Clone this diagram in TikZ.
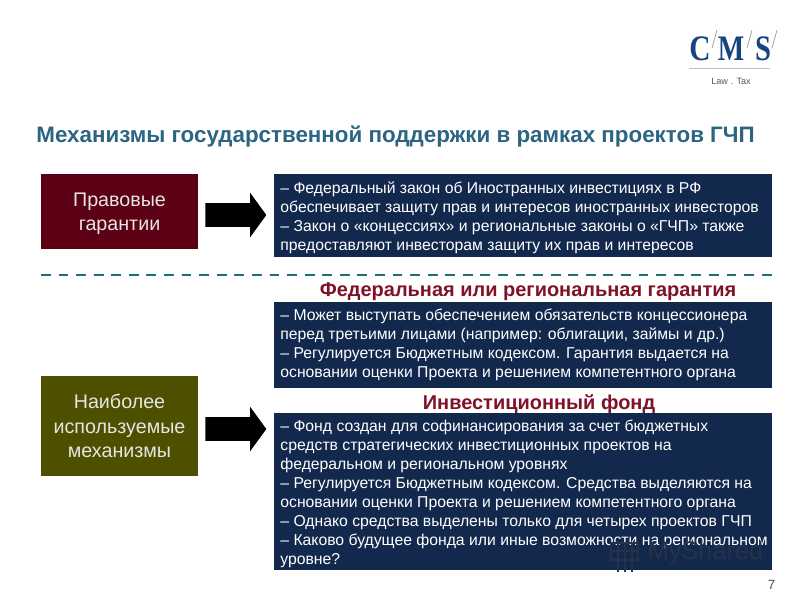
\documentclass[tikz,border=0pt]{standalone}
\usepackage{fontspec}
\setmainfont{Liberation Sans}
\newfontfamily\logofont{Liberation Serif}
\usetikzlibrary{shapes.arrows}
\definecolor{navybox}{HTML}{12284C}
\definecolor{wine}{HTML}{5C0014}
\definecolor{olive}{HTML}{4F4F00}
\definecolor{titleblue}{HTML}{2B6582}
\definecolor{redhead}{HTML}{7F1228}
\definecolor{dashteal}{HTML}{1F7078}
\definecolor{cmsblue}{HTML}{17437F}
\definecolor{markgrey}{HTML}{263248}
\tikzset{
  leftbox/.style={text=white!90!black,font=\fontsize{14}{17.5}\selectfont,align=center,inner sep=0pt,minimum width=112pt},
  textbox/.style={fill=navybox,text=white,font=\fontsize{11.2}{13.5}\selectfont,align=left,anchor=north west,inner sep=0pt,minimum width=354pt},
  bigarrow/.style={single arrow,fill=black,minimum width=31pt,minimum height=43.4pt,single arrow head extend=7.5pt,single arrow tip angle=108,inner ysep=8.2pt,inner xsep=0pt},
  headtext/.style={text=redhead,font=\fontsize{14.2}{16}\bfseries\selectfont,inner sep=0pt},
  logoletter/.style={text=cmsblue,inner sep=0pt,font=\logofont\fontsize{25.5}{25.5}\bfseries\selectfont},
  logoslash/.style={gray!80,line width=.5pt},
}
\begin{document}
\begin{tikzpicture}[x=.025cm,y=-.025cm]
  \useasboundingbox (0,0) rectangle (800,600);
  % logo
  \draw (700,49) node[logoletter] (cmsc) {\scalebox{.82}[1]{C}};
  \draw (731,49) node[logoletter] (cmsm) {\scalebox{.78}[1]{M}};
  \draw (763,49) node[logoletter] (cmss) {\scalebox{.8}[1]{S}};
  \foreach \sx/\sn in {712/a,747/b,772/c}{
    \coordinate (slash\sn low) at (\sx,48);
    \coordinate (slash\sn top) at (\sx+5,30);
    \draw[logoslash] (slash\sn low) -- (slash\sn top);
  }
  \coordinate (rulea) at (689,68);
  \coordinate (ruleb) at (770,68);
  \draw[gray!50,line width=.7pt] (rulea) -- (ruleb);
  \draw (731,81) node[text=black!65,inner sep=0pt,font=\fontsize{6.5}{8}\selectfont] (lawtax) {Law . Tax};
  % title
  \draw (395.5,136) node[text=titleblue,inner sep=0pt,font=\fontsize{15.9}{18}\bfseries\selectfont] (title) {Механизмы государственной поддержки в рамках проектов ГЧП};
  % left column
  \draw (119.5,211.5) node[leftbox,fill=wine,minimum height=53.5pt] (legal) {\rule{0pt}{13pt}Правовые\\гарантии};
  \draw (119.5,426) node[leftbox,fill=olive,minimum height=71pt] (common) {Наиболее\\используемые\\механизмы};
  % arrows
  \draw (231.5,215) node[bigarrow] (arrowa) {};
  \draw (231.5,429) node[bigarrow] (arrowb) {};
  % text boxes
  \draw (274,174) node[textbox,minimum height=58.5pt] (law) {\hspace{3.7pt}\parbox[c]{349pt}{\vspace{3pt}– Федеральный закон об Иностранных инвестициях в РФ\\обеспечивает защиту прав и интересов иностранных инвесторов\\– Закон о «концессиях» и региональные законы о «ГЧП» также\\предоставляют инвесторам защиту их прав и интересов}};
  \coordinate (dasha) at (41,275);
  \coordinate (dashb) at (772,275);
  \draw[dashteal,line width=1.9pt,dash pattern=on 7pt off 5.5pt] (dasha) -- (dashb);
  \draw (528,292) node[headtext] (federal) {Федеральная или региональная гарантия};
  \draw (274,302) node[textbox,minimum height=61pt] (guarantee) {\hspace{3.7pt}\parbox[c]{349pt}{– Может выступать обеспечением обязательств концессионера\\перед третьими лицами (например: облигации, займы и др.)\\– Регулируется Бюджетным кодексом. Гарантия выдается на\\основании оценки Проекта и решением компетентного органа}};
  \draw (539,404) node[headtext] (fund) {Инвестиционный фонд};
  \draw (274,413) node[textbox,minimum height=111.6pt] (fundtext) {\hspace{3.7pt}\parbox[c]{349pt}{\vspace{3pt}– Фонд создан для софинансирования за счет бюджетных\\средств стратегических инвестиционных проектов на\\федеральном и региональном уровнях\\– Регулируется Бюджетным кодексом. Средства выделяются на\\основании оценки Проекта и решением компетентного органа\\– Однако средства выделены только для четырех проектов ГЧП\\– Каково будущее фонда или иные возможности на региональном\\уровне?}};
  % watermark
  \draw (705.5,553) node[text=markgrey,inner sep=0pt,font=\fontsize{18}{20}\selectfont] (myshared) {MyShared};
  \draw[markgrey,line width=1.2pt] (611,543) rectangle (638,560);
  \foreach \gx in {618,625,632}{
    \draw[markgrey,line width=1pt] (\gx,543) -- (\gx,572);
  }
  \draw[markgrey,line width=1pt] (611,551) -- (638,551);
  \draw (771.5,585) node[text=black!70,inner sep=0pt,font=\fontsize{9.5}{11}\selectfont] (pagenum) {7};
\end{tikzpicture}
\end{document}
